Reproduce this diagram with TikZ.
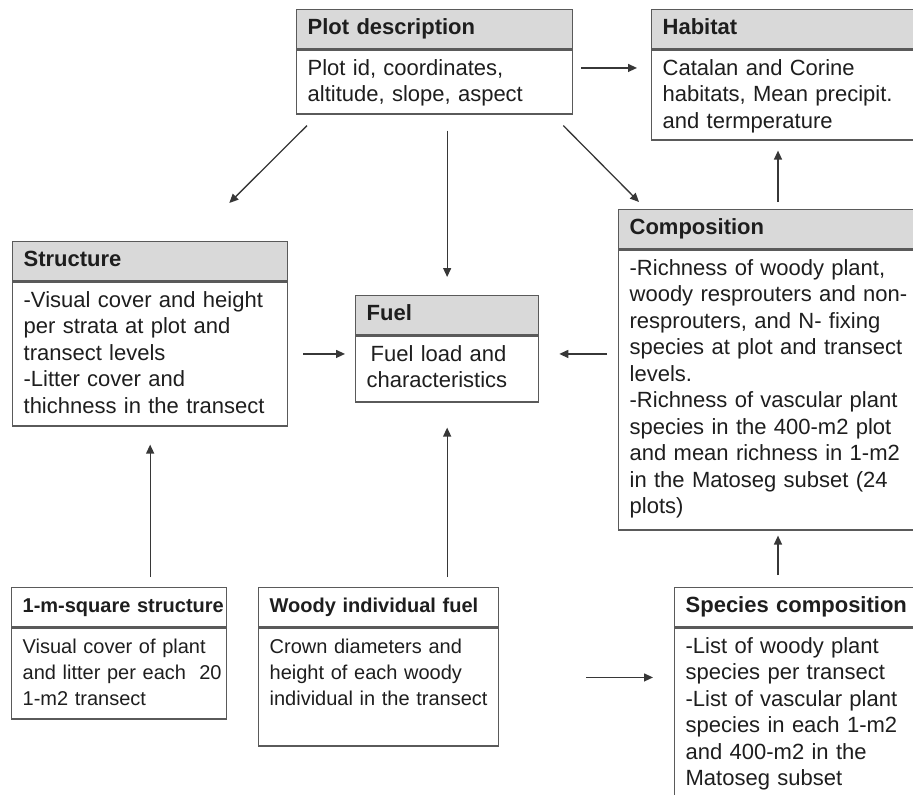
\documentclass[tikz,border=0pt]{standalone}
\usepackage{fontspec}
\setmainfont{Liberation Sans}
\usepackage{tikz}
\usetikzlibrary{arrows.meta, positioning}
\definecolor{boxline}{RGB}{90,90,90}
\definecolor{headgray}{RGB}{217,217,217}
\definecolor{inkgray}{RGB}{30,30,30}
\definecolor{arrowgray}{RGB}{55,55,55}
\newcommand{\bigtxt}{\fontsize{22pt}{26.5pt}\selectfont\spaceskip=0.2em plus 0.1em\relax}
\newcommand{\smalltxt}{\fontsize{20pt}{26pt}\selectfont\spaceskip=0.2em plus 0.1em\relax}
\tikzset{
  box/.style={
    rectangle, draw=boxline, line width=1.3pt, inner xsep=11pt,
    align=left, text=inkgray
  },
  head/.style={box, fill=headgray, anchor=north west, inner ysep=9pt,
    text height=16pt, text depth=5pt, font=\bigtxt\bfseries},
  headw/.style={head, fill=white, font=\smalltxt\bfseries},
  body/.style={box, fill=white, inner ysep=5pt, text height=20.5pt,
    text depth=#1, font=\bigtxt},
  bodys/.style={body=#1, font=\smalltxt},
  arr/.style={-{Triangle[length=9pt,width=8pt]}, line width=1.3pt, draw=arrowgray}
}

\begin{document}
\begin{tikzpicture}[x=1pt, y=-1pt]
  \useasboundingbox (0,0) rectangle (913,795);
  \clip (0,0) rectangle (913,795);

  % top row
  \node[head, text width=254pt] (plot) at (296,9) {Plot description};
  \node[body=33.5pt, text width=254pt, below=0pt of plot] (plotb)
        {Plot id, coordinates,\\altitude, slope, aspect};
  \node[head, text width=248pt] (hab) at (651,9) {Habitat};
  \node[body=59.5pt, text width=248pt, below=0pt of hab] (habb)
        {Catalan and Corine\\habitats, Mean precipit.\\and termperature};

  % middle row
  \node[head, text width=253pt] (struct) at (12,241) {Structure};
  \node[body=113.5pt, text width=253pt, below=0pt of struct] (structb)
        {-Visual cover and height\\per strata at plot and\\transect levels\\
         -Litter cover and\\thichness in the transect};
  \node[head, text width=161pt] (fuel) at (355,295) {Fuel};
  \node[body=35.5pt, text width=161pt, below=0pt of fuel] (fuelb)
        {\hspace{4pt}Fuel load and\\characteristics};
  \node[head, text width=278pt] (comp) at (618,209) {Composition};
  \node[body=249.5pt, text width=278pt, below=0pt of comp] (compb)
        {-Richness of woody plant,\\woody resprouters and non-\\
         resprouters, and N- fixing\\species at plot and transect\\levels.\\
         -Richness of vascular plant\\species in the 400-m2 plot\\
         and mean richness in 1-m2\\in the Matoseg subset (24\\plots)};

  % bottom row
  \node[headw, text width=193pt] (msq) at (11,587) {\mbox{1-m-square structure}};
  \node[bodys=60.5pt, text width=193pt, below=0pt of msq] (msqb)
        {\mbox{Visual cover of plant}\\\mbox{and litter per each\ \ 20}\\1-m2 transect};
  \node[headw, text width=218pt] (woody) at (258,587) {Woody individual fuel};
  \node[bodys=87.5pt, text width=218pt, below=0pt of woody] (woodyb)
        {Crown diameters and\\height of each woody\\individual in the transect};
  \node[head, fill=white, text width=228pt] (spec) at (674,587) {Species composition};
  \node[body=173.5pt, text width=228pt, below=0pt of spec] (specb)
        {-List of woody plant\\species per transect\\-List of vascular plant\\
         species in each 1-m2\\and 400-m2 in the\\Matoseg subset};

  \coordinate (ph) at ([yshift=14pt]plotb.east);
  \coordinate (ct) at ([xshift=160pt]comp.north west);
  \coordinate (cb) at ([xshift=160pt]compb.south west);
  \coordinate (ws) at ([yshift=9.5pt]woodyb.east);

  \draw[arr, shorten <=8pt, shorten >=14pt] (ph) -- (ph -| habb.west);
  \draw[arr] ([xshift=11pt,yshift=-11pt]plotb.south west)
          -- ([xshift=-59pt,yshift=38pt]struct.north east);
  \draw[arr, shorten <=16pt, shorten >=18pt] (plotb.south -| fuel.north) -- (fuel.north);
  \draw[arr] ([xshift=-10pt,yshift=-11pt]plotb.south east)
          -- ([xshift=21pt,yshift=7pt]comp.north west);
  \draw[arr, shorten <=7pt, shorten >=10pt] (ct) -- (ct |- habb.south);
  \draw[arr, shorten <=15pt, shorten >=10pt] (structb.east) -- (structb.east -| fuelb.west);
  \draw[arr, shorten <=11pt, shorten >=20pt] (structb.east -| compb.west) -- (structb.east -| fuelb.east);
  \draw[arr, shorten <=10pt, shorten >=18pt] (structb.south |- msq.north) -- (structb.south);
  \draw[arr, shorten <=10pt, shorten >=25pt] (fuelb.south |- woody.north) -- (fuelb.south);
  \draw[arr, shorten <=87pt, shorten >=21pt] (ws) -- (ws -| specb.west);
  \draw[arr, shorten <=12pt, shorten >=5pt] (cb |- spec.north) -- (cb);
\end{tikzpicture}
\end{document}
